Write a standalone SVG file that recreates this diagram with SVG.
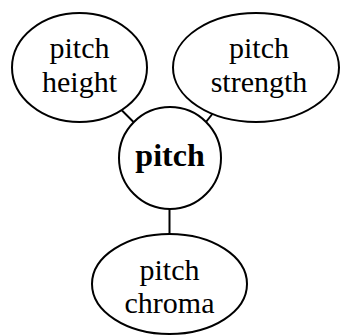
<svg xmlns="http://www.w3.org/2000/svg" width="341" height="336" viewBox="0 0 341 336">
<style>
.n{fill:#fff;stroke:#000;stroke-width:2}
.e{stroke:#000;stroke-width:2;fill:none}
text{font-family:"Liberation Serif","DejaVu Serif",serif;font-size:30px;text-anchor:middle;fill:#000}
.b{font-weight:bold;font-size:32px}
</style>
<rect width="341" height="336" fill="#fff"/>
<g id="connectors">
<line class="e" x1="122" y1="110.5" x2="134" y2="122.5"/>
<line class="e" x1="213.5" y1="112.5" x2="206" y2="122"/>
<line class="e" x1="169.5" y1="209" x2="169.5" y2="234"/>
</g>
<g id="height">
<ellipse class="n" cx="79.5" cy="67.5" rx="67.5" ry="54.5"/>
<text x="79.5" y="58">pitch</text>
<text x="79.5" y="92">height</text>
</g>
<g id="strength">
<ellipse class="n" cx="256" cy="67.5" rx="83" ry="54.5"/>
<text x="259" y="58">pitch</text>
<text x="259" y="92">strength</text>
</g>
<g id="pitch">
<circle class="n" cx="170" cy="158" r="51"/>
<text class="b" x="170" y="166">pitch</text>
</g>
<g id="chroma">
<ellipse class="n" cx="169.5" cy="284" rx="77.5" ry="50"/>
<text x="169.5" y="280">pitch</text>
<text x="169.5" y="313">chroma</text>
</g>
</svg>
